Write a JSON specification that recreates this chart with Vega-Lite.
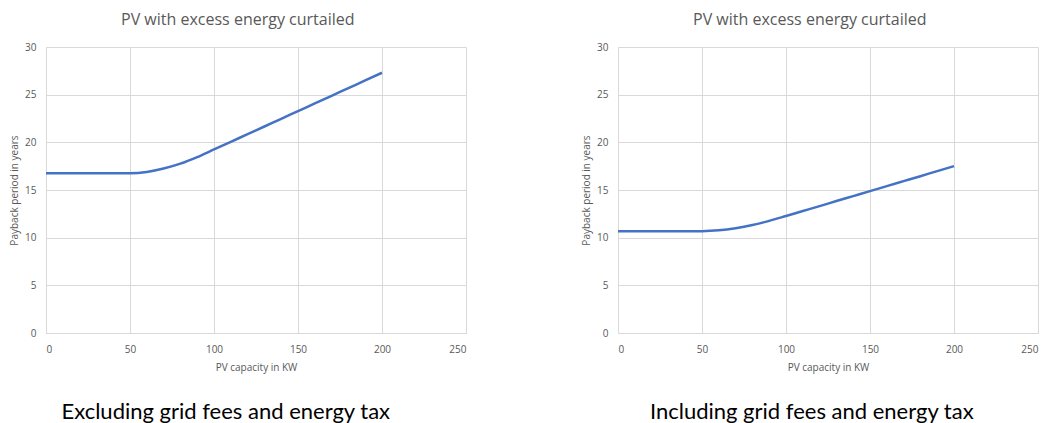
{
  "$schema": "https://vega.github.io/schema/vega-lite/v6.json",
  "background": "white",
  "padding": {"left": 9, "top": 12, "right": 6, "bottom": 2},
  "datasets": {
    "excl": [
      {"kw": 0, "years": 16.75}, {"kw": 10, "years": 16.75}, {"kw": 20, "years": 16.75},
      {"kw": 30, "years": 16.75}, {"kw": 40, "years": 16.75}, {"kw": 50, "years": 16.76},
      {"kw": 60, "years": 16.9}, {"kw": 70, "years": 17.25}, {"kw": 80, "years": 17.76},
      {"kw": 90, "years": 18.45}, {"kw": 100, "years": 19.25}, {"kw": 110, "years": 20.05},
      {"kw": 120, "years": 20.86}, {"kw": 130, "years": 21.66}, {"kw": 140, "years": 22.47},
      {"kw": 150, "years": 23.27}, {"kw": 160, "years": 24.08}, {"kw": 170, "years": 24.88},
      {"kw": 180, "years": 25.69}, {"kw": 190, "years": 26.49}, {"kw": 200, "years": 27.3}
    ],
    "incl": [
      {"kw": 0, "years": 10.67}, {"kw": 10, "years": 10.67}, {"kw": 20, "years": 10.67},
      {"kw": 30, "years": 10.67}, {"kw": 40, "years": 10.67}, {"kw": 50, "years": 10.68},
      {"kw": 60, "years": 10.77}, {"kw": 70, "years": 10.99}, {"kw": 80, "years": 11.32},
      {"kw": 90, "years": 11.76}, {"kw": 100, "years": 12.27}, {"kw": 110, "years": 12.79},
      {"kw": 120, "years": 13.31}, {"kw": 130, "years": 13.84}, {"kw": 140, "years": 14.36},
      {"kw": 150, "years": 14.88}, {"kw": 160, "years": 15.41}, {"kw": 170, "years": 15.93},
      {"kw": 180, "years": 16.45}, {"kw": 190, "years": 16.98}, {"kw": 200, "years": 17.5}
    ]
  },
  "config": {
    "view": {"stroke": null},
    "font": "Open Sans",
    "axis": {
      "gridColor": "#d9d9d9",
      "gridWidth": 1,
      "labelColor": "#595959",
      "labelFontSize": 10,
      "titleColor": "#595959",
      "titleFontSize": 10,
      "titleFontWeight": "normal",
      "domain": false,
      "ticks": false
    },
    "axisX": {"domain": true, "domainColor": "#d9d9d9", "labelPadding": 11, "titlePadding": 8},
    "axisY": {"labelPadding": 10, "titlePadding": 5},
    "title": {
      "fontWeight": "normal",
      "fontSize": 16,
      "color": "#595959",
      "font": "Open Sans"
    }
  },
  "spacing": 115,
  "hconcat": [
    {
      "title": {
        "text": "Excluding grid fees and energy tax",
        "orient": "bottom",
        "anchor": "middle",
        "font": "Lato",
        "fontSize": 22,
        "color": "#000000",
        "frame": "bounds",
        "offset": 30,
        "dx": -12
      },
      "vconcat": [
        {
          "title": {"text": "PV with excess energy curtailed", "frame": "bounds", "anchor": "middle", "offset": 14},
          "width": 420,
          "height": 286,
          "data": {"name": "excl"},
          "mark": {"type": "line", "interpolate": "monotone", "color": "#4472C4", "strokeWidth": 2.5},
          "encoding": {
            "x": {"field": "kw", "type": "quantitative", "title": "PV capacity in KW",
                  "scale": {"domain": [0, 250], "nice": false},
                  "axis": {"values": [0, 50, 100, 150, 200, 250]}},
            "y": {"field": "years", "type": "quantitative", "title": "Payback period in years",
                  "scale": {"domain": [0, 30], "nice": false},
                  "axis": {"values": [0, 5, 10, 15, 20, 25, 30]}}
          }
        }
      ]
    },
    {
      "title": {
        "text": "Including grid fees and energy tax",
        "orient": "bottom",
        "anchor": "middle",
        "font": "Lato",
        "fontSize": 22,
        "color": "#000000",
        "frame": "bounds",
        "offset": 30,
        "dx": 2
      },
      "vconcat": [
        {
          "title": {"text": "PV with excess energy curtailed", "frame": "bounds", "anchor": "middle", "offset": 14},
          "width": 420,
          "height": 286,
          "data": {"name": "incl"},
          "mark": {"type": "line", "interpolate": "monotone", "color": "#4472C4", "strokeWidth": 2.5},
          "encoding": {
            "x": {"field": "kw", "type": "quantitative", "title": "PV capacity in KW",
                  "scale": {"domain": [0, 250], "nice": false},
                  "axis": {"values": [0, 50, 100, 150, 200, 250]}},
            "y": {"field": "years", "type": "quantitative", "title": "Payback period in years",
                  "scale": {"domain": [0, 30], "nice": false},
                  "axis": {"values": [0, 5, 10, 15, 20, 25, 30]}}
          }
        }
      ]
    }
  ]
}
